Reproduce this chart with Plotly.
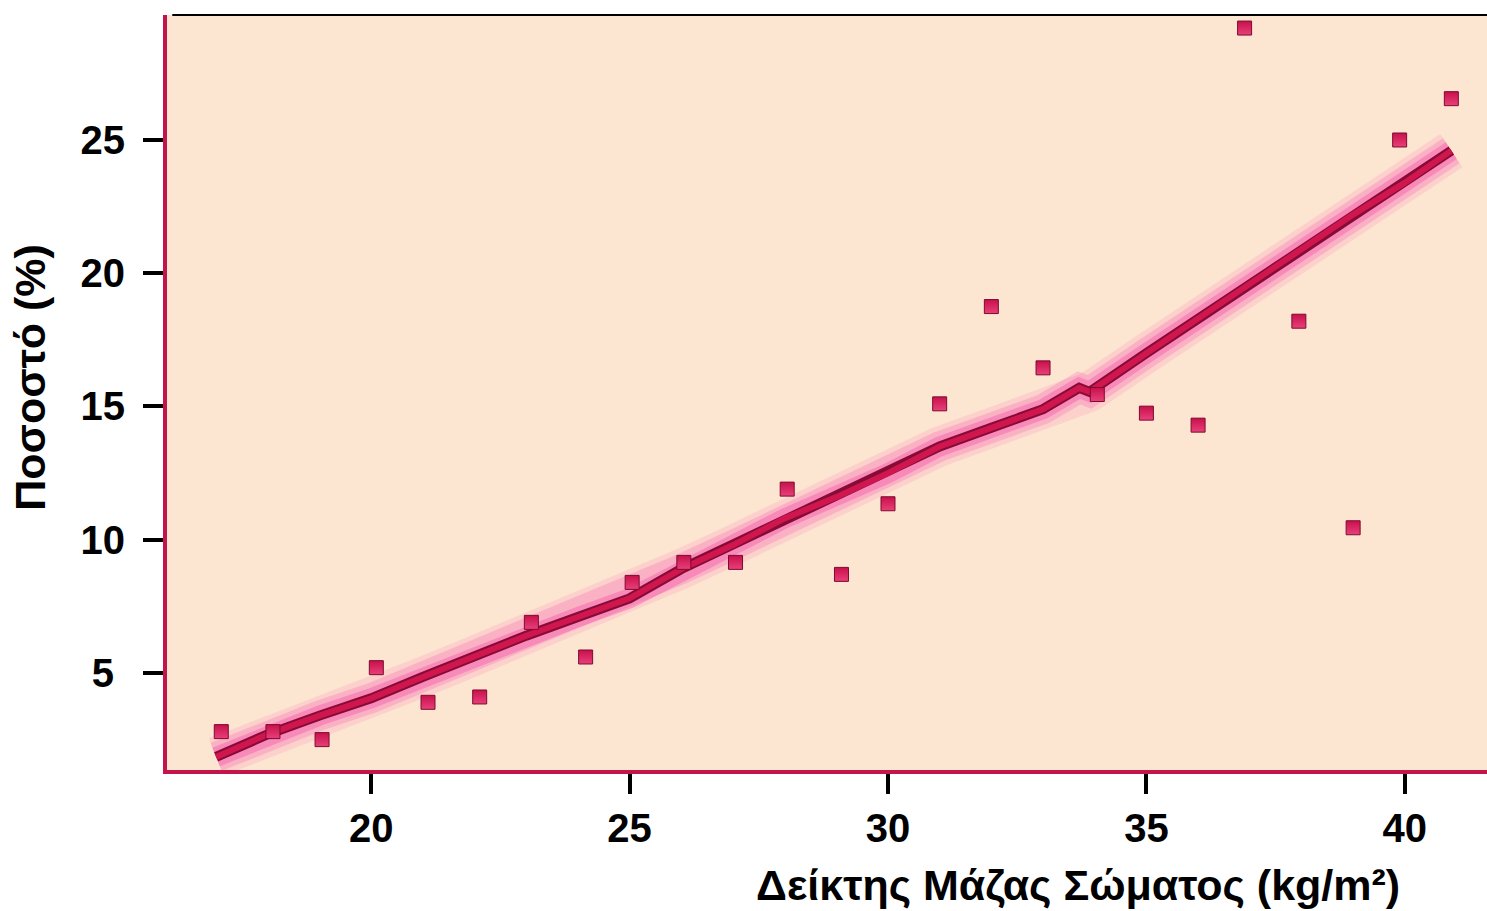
import plotly.graph_objects as go

# scatter points (BMI, percentage)
bmi = [17.1, 18.1, 19.05, 20.1, 21.1, 22.1, 23.1, 24.15, 25.05, 26.05, 27.05, 28.05,
       29.1, 30.0, 31.0, 32.0, 33.0, 34.05, 35.0, 36.0, 36.9, 37.95, 39.0, 39.9, 40.9]
pct = [2.8, 2.8, 2.5, 5.2, 3.9, 4.1, 6.9, 5.6, 8.4, 9.15, 9.15, 11.9,
       8.7, 11.35, 15.1, 18.75, 16.45, 15.45, 14.75, 14.3, 29.2, 18.2, 10.45, 25.0, 26.55]

# fitted (smoothed) curve
fit_x = [17.0, 18.0, 19.0, 20.0, 21.0, 22.0, 23.0, 24.0, 25.0, 26.0, 27.0, 28.0,
         29.0, 30.0, 31.0, 32.0, 33.0, 33.7, 33.9, 35.0, 36.0, 37.0, 38.0, 39.0, 40.0, 40.9]
fit_y = [1.85, 2.7, 3.4, 4.05, 4.85, 5.65, 6.4, 7.1, 7.8, 8.9, 9.8, 10.8,
         11.6, 12.5, 13.5, 14.2, 14.9, 15.7, 15.55, 17.0, 18.3, 19.6, 20.9, 22.2, 23.4, 24.6]

x_ticks = [20, 25, 30, 35, 40]
y_ticks = [5, 10, 15, 20, 25]
y_ticktext = ["5\u00a0", "10", "15", "20", "25"]

x_title = "Δείκτης Μάζας Σώματος (kg/m²)"
y_title = "Ποσοστό (%)"

FONT = "Liberation Sans, Arial, sans-serif"
CRIMSON = "#C2154C"

fig = go.Figure()

# pink glow around the curve
for w, a in [(40, 0.14), (30, 0.24), (20, 0.4)]:
    fig.add_trace(go.Scatter(
        x=fit_x, y=fit_y, mode="lines",
        line=dict(color=f"rgba(245,80,170,{a})", width=w),
        hoverinfo="skip", showlegend=False,
    ))
fig.add_trace(go.Scatter(
    x=fit_x, y=fit_y, mode="lines",
    line=dict(color="#860C35", width=10),
    hoverinfo="skip", showlegend=False,
))
fig.add_trace(go.Scatter(
    x=fit_x, y=fit_y, mode="lines",
    line=dict(color="#D0164F", width=6),
    showlegend=False,
))

fig.add_trace(go.Scatter(
    x=bmi, y=pct, mode="markers",
    marker=dict(symbol="square", size=14, color="#C8104B",
                line=dict(color="#7E0A30", width=1),
                gradient=dict(type="vertical", color="#E8407A")),
    showlegend=False,
))

fig.update_xaxes(
    range=[16.05, 41.59],
    tickvals=x_ticks,
    ticks="outside", ticklen=20, tickwidth=4, tickcolor="black",
    showline=True, linecolor=CRIMSON, linewidth=4,
    showgrid=False, zeroline=False,
    tickfont=dict(family=FONT, size=40, color="black", weight="bold"),
)
fig.update_yaxes(
    range=[1.36, 29.69],
    tickvals=y_ticks, ticktext=y_ticktext,
    ticks="outside", ticklen=20, tickwidth=4, tickcolor="black",
    ticklabelstandoff=10,
    showline=True, linecolor=CRIMSON, linewidth=4,
    showgrid=False, zeroline=False,
    tickfont=dict(family=FONT, size=40, color="black", weight="bold"),
)

fig.add_annotation(
    text=x_title, xref="paper", yref="paper", x=0.69, y=-0.152,
    xanchor="center", yanchor="middle", showarrow=False,
    font=dict(family=FONT, size=43, color="black", weight="bold"),
)
fig.add_annotation(
    text=y_title, xref="paper", yref="paper", x=-0.1035, y=0.52,
    xanchor="center", yanchor="middle", showarrow=False, textangle=-90,
    font=dict(family=FONT, size=43, color="black", weight="bold"),
)

# thin frame line on top
fig.add_shape(type="line", xref="paper", yref="paper", x0=0.004, x1=1, y0=1, y1=1,
              line=dict(color="black", width=2))

fig.update_layout(
    width=1487, height=911,
    margin=dict(l=167, r=0, t=15, b=141),
    plot_bgcolor="#FDE6D1",
    paper_bgcolor="white",
    showlegend=False,
)

fig.write_html("out.html", config={"displayModeBar": False},
               post_script="document.body.style.margin='0';")
